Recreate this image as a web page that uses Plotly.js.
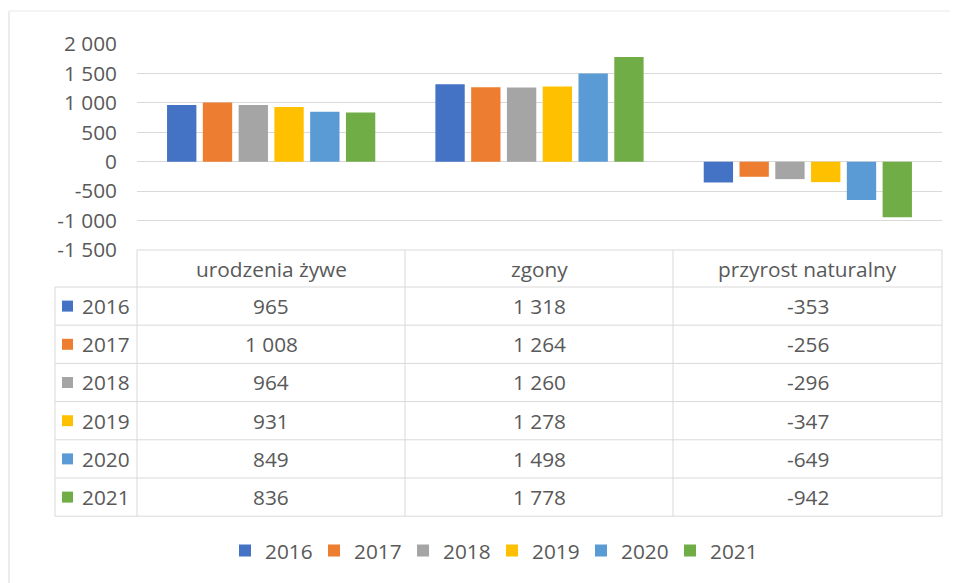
<!DOCTYPE html>
<html>
<head>
<meta charset="utf-8">
<script src="https://cdn.plot.ly/plotly-3.0.1.min.js"></script>
<style>
html,body{margin:0;padding:0;background:#fff;}
#chart{width:956px;height:583px;}
</style>
</head>
<body>
<div id="chart"></div>
<script>
// ---- data ----
const categories = ['urodzenia żywe', 'zgony', 'przyrost naturalny'];
const years = ['2016', '2017', '2018', '2019', '2020', '2021'];
const values2016 = [965, 1318, -353];
const values2017 = [1008, 1264, -256];
const values2018 = [964, 1260, -296];
const values2019 = [931, 1278, -347];
const values2020 = [849, 1498, -649];
const values2021 = [836, 1778, -942];
const tickValues = [-1500, -1000, -500, 0, 500, 1000, 1500, 2000];
const tickLabels = ['-1 500', '-1 000', '-500', '0', '500', '1 000', '1 500', '2 000'];
const colors = ['#4472C4', '#ED7D31', '#A5A5A5', '#FFC000', '#5B9BD5', '#70AD47'];

const series = [values2016, values2017, values2018, values2019, values2020, values2021];

// ---- geometry (pixels) ----
const W = 956, H = 583;
const px = v => v / W;
const py = v => 1 - v / H;
const plotL = 137, plotR = 942, plotT = 44, plotB = 250;
const tableLeft = 55;
const headerBottom = 287;
const rowH = 38.2;
const colEdges = [plotL, 405, 673, plotR];
const textColor = '#595959';
const gridColor = '#D9D9D9';
const fontFam = '"Open Sans", "Noto Sans", sans-serif';
const fs = 20.8;

function fmt(n) {
  const s = Math.abs(n).toString().replace(/\B(?=(\d{3})+(?!\d))/g, ' ');
  return (n < 0 ? '-' : '') + s;
}

const traces = series.map((vals, i) => ({
  type: 'bar',
  name: years[i],
  x: categories,
  y: vals,
  marker: {color: colors[i]},
  hoverinfo: 'x+y+name'
}));

const shapes = [];
const annotations = [];

// outer faint frame
shapes.push({type: 'line', xref: 'paper', yref: 'paper', x0: px(9), x1: px(9), y0: py(11), y1: py(583), line: {color: '#E6E6E6', width: 1.5}});
shapes.push({type: 'line', xref: 'paper', yref: 'paper', x0: px(9), x1: px(950), y0: py(11), y1: py(11), line: {color: '#F0F0F0', width: 1.5}});

// table lines
const nRows = years.length;
const tableBottom = headerBottom + nRows * rowH;
shapes.push({type: 'line', xref: 'paper', yref: 'paper', x0: px(plotL), x1: px(plotR), y0: py(plotB), y1: py(plotB), line: {color: gridColor, width: 1}});
for (let r = 0; r <= nRows; r++) {
  const yy = headerBottom + r * rowH;
  shapes.push({type: 'line', xref: 'paper', yref: 'paper', x0: px(tableLeft), x1: px(plotR), y0: py(yy), y1: py(yy), line: {color: gridColor, width: 1}});
}
shapes.push({type: 'line', xref: 'paper', yref: 'paper', x0: px(tableLeft), x1: px(tableLeft), y0: py(headerBottom), y1: py(tableBottom), line: {color: gridColor, width: 1}});
colEdges.forEach(xx => {
  shapes.push({type: 'line', xref: 'paper', yref: 'paper', x0: px(xx), x1: px(xx), y0: py(plotB), y1: py(tableBottom), line: {color: gridColor, width: 1}});
});

// header texts
categories.forEach((c, j) => {
  const cx = (colEdges[j] + colEdges[j + 1]) / 2;
  annotations.push({xref: 'paper', yref: 'paper', x: px(cx), y: py((plotB + headerBottom) / 2),
    text: c, showarrow: false, xanchor: 'center', yanchor: 'middle',
    font: {family: fontFam, size: fs, color: textColor}});
});
// rows
years.forEach((yr, i) => {
  const cy = headerBottom + (i + 0.5) * rowH;
  shapes.push({type: 'rect', xref: 'paper', yref: 'paper', x0: px(62), x1: px(73), y0: py(cy - 5.5), y1: py(cy + 5.5),
    fillcolor: colors[i], line: {width: 0}});
  annotations.push({xref: 'paper', yref: 'paper', x: px(80), y: py(cy),
    text: yr, showarrow: false, xanchor: 'left', yanchor: 'middle',
    font: {family: fontFam, size: fs, color: textColor}});
  series[i].forEach((v, j) => {
    const cx = (colEdges[j] + colEdges[j + 1]) / 2;
    annotations.push({xref: 'paper', yref: 'paper', x: px(cx), y: py(cy),
      text: fmt(v), showarrow: false, xanchor: 'center', yanchor: 'middle',
      font: {family: fontFam, size: fs, color: textColor}});
  });
});

const layout = {
  width: W, height: H,
  margin: {l: 0, r: 0, t: 0, b: 0},
  paper_bgcolor: '#FFFFFF',
  plot_bgcolor: '#FFFFFF',
  barmode: 'group',
  bargap: 0.2,
  bargroupgap: 0.18,
  font: {family: fontFam, size: fs, color: textColor},
  xaxis: {
    domain: [px(plotL), px(plotR)],
    showticklabels: false,
    showgrid: false,
    zeroline: false,
    showline: false,
    ticks: ''
  },
  yaxis: {
    domain: [py(plotB), py(plotT)],
    range: [-1500, 2000],
    tickvals: tickValues,
    ticktext: tickLabels,
    showgrid: true,
    gridcolor: gridColor,
    gridwidth: 1,
    zeroline: false,
    showline: false,
    ticks: '',
    ticklabelstandoff: 19,
    tickfont: {family: fontFam, size: fs, color: textColor}
  },
  showlegend: true,
  legend: {
    orientation: 'h',
    x: px(492), xanchor: 'center',
    y: py(551), yanchor: 'middle',
    font: {family: fontFam, size: fs, color: textColor},
    itemwidth: 30,
    entrywidth: 44,
    traceorder: 'normal'
  },
  shapes: shapes,
  annotations: annotations
};

Plotly.newPlot('chart', traces, layout, {displayModeBar: false, staticPlot: true});
</script>
</body>
</html>
